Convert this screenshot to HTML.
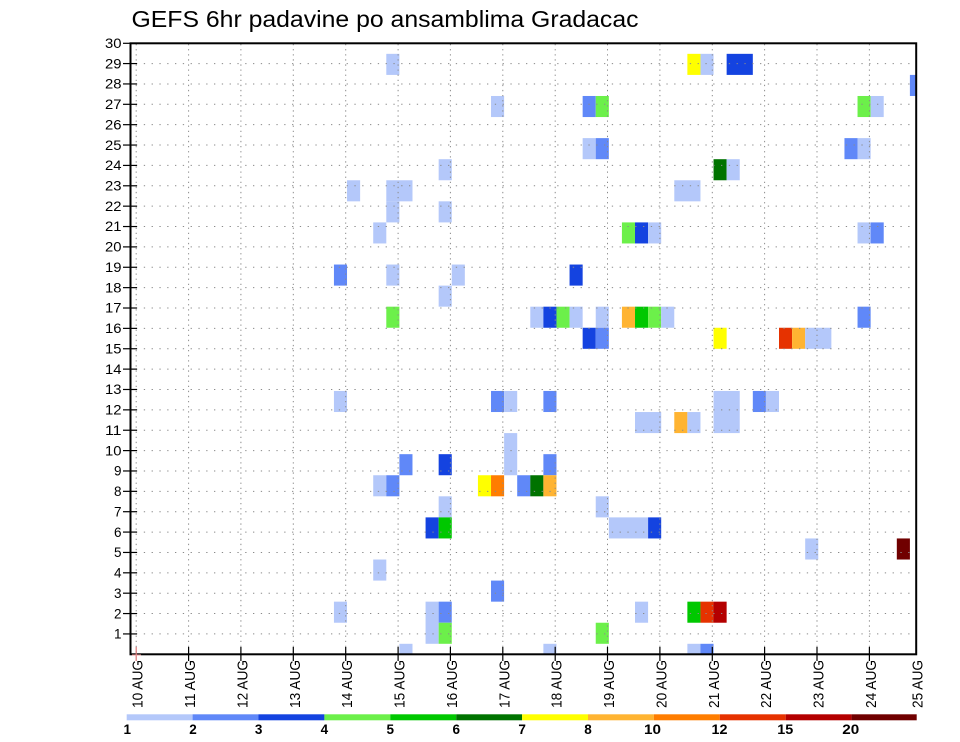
<!DOCTYPE html>
<html><head><meta charset="utf-8"><style>
html,body{margin:0;padding:0;background:#fff;}
svg{display:block;}
text{font-family:"Liberation Sans",sans-serif;fill:#000;}
.a{fill:#b4c8fa}.b{fill:#6088f8}.c{fill:#1443e0}.d{fill:#6cf04a}.e{fill:#00c800}.f{fill:#007300}
.g{fill:#ffff00}.h{fill:#ffb432}.i{fill:#ff7d00}.j{fill:#e63200}.l{fill:#b40000}.m{fill:#700000}
.hg line{stroke:#8a8a8a;stroke-width:1;stroke-dasharray:1.3 6.5;}
.vg line{stroke:#8a8a8a;stroke-width:1;stroke-dasharray:1.3 3.8;}
</style></head><body>
<svg width="960" height="742" viewBox="0 0 960 742" xmlns="http://www.w3.org/2000/svg">
<rect width="960" height="742" fill="#fff"/>
<text x="131.5" y="27" font-size="23" textLength="507" lengthAdjust="spacingAndGlyphs">GEFS 6hr padavine po ansamblima Gradacac</text>
<defs><clipPath id="pc"><rect x="131" y="43.3" width="785" height="611"/></clipPath></defs>
<g clip-path="url(#pc)">
<rect class="a" x="386.30" y="53.84" width="13.09" height="21.07"/>
<rect class="g" x="687.37" y="53.84" width="13.09" height="21.07"/>
<rect class="a" x="700.46" y="53.84" width="13.09" height="21.07"/>
<rect class="c" x="726.64" y="53.84" width="26.18" height="21.07"/>
<rect class="b" x="909.90" y="74.91" width="13.09" height="21.07"/>
<rect class="a" x="491.02" y="95.98" width="13.09" height="21.07"/>
<rect class="b" x="582.65" y="95.98" width="13.09" height="21.07"/>
<rect class="d" x="595.74" y="95.98" width="13.09" height="21.07"/>
<rect class="d" x="857.54" y="95.98" width="13.09" height="21.07"/>
<rect class="a" x="870.63" y="95.98" width="13.09" height="21.07"/>
<rect class="a" x="582.65" y="138.12" width="13.09" height="21.07"/>
<rect class="b" x="595.74" y="138.12" width="13.09" height="21.07"/>
<rect class="b" x="844.45" y="138.12" width="13.09" height="21.07"/>
<rect class="a" x="857.54" y="138.12" width="13.09" height="21.07"/>
<rect class="a" x="438.66" y="159.19" width="13.09" height="21.07"/>
<rect class="f" x="713.55" y="159.19" width="13.09" height="21.07"/>
<rect class="a" x="726.64" y="159.19" width="13.09" height="21.07"/>
<rect class="a" x="347.03" y="180.26" width="13.09" height="21.07"/>
<rect class="a" x="386.30" y="180.26" width="26.18" height="21.07"/>
<rect class="a" x="674.28" y="180.26" width="26.18" height="21.07"/>
<rect class="a" x="386.30" y="201.33" width="13.09" height="21.07"/>
<rect class="a" x="438.66" y="201.33" width="13.09" height="21.07"/>
<rect class="a" x="373.21" y="222.40" width="13.09" height="21.07"/>
<rect class="d" x="621.92" y="222.40" width="13.09" height="21.07"/>
<rect class="c" x="635.01" y="222.40" width="13.09" height="21.07"/>
<rect class="a" x="648.10" y="222.40" width="13.09" height="21.07"/>
<rect class="a" x="857.54" y="222.40" width="13.09" height="21.07"/>
<rect class="b" x="870.63" y="222.40" width="13.09" height="21.07"/>
<rect class="b" x="333.94" y="264.54" width="13.09" height="21.07"/>
<rect class="a" x="386.30" y="264.54" width="13.09" height="21.07"/>
<rect class="a" x="451.75" y="264.54" width="13.09" height="21.07"/>
<rect class="c" x="569.56" y="264.54" width="13.09" height="21.07"/>
<rect class="a" x="438.66" y="285.61" width="13.09" height="21.07"/>
<rect class="d" x="386.30" y="306.68" width="13.09" height="21.07"/>
<rect class="a" x="530.29" y="306.68" width="13.09" height="21.07"/>
<rect class="c" x="543.38" y="306.68" width="13.09" height="21.07"/>
<rect class="d" x="556.47" y="306.68" width="13.09" height="21.07"/>
<rect class="a" x="569.56" y="306.68" width="13.09" height="21.07"/>
<rect class="a" x="595.74" y="306.68" width="13.09" height="21.07"/>
<rect class="h" x="621.92" y="306.68" width="13.09" height="21.07"/>
<rect class="e" x="635.01" y="306.68" width="13.09" height="21.07"/>
<rect class="d" x="648.10" y="306.68" width="13.09" height="21.07"/>
<rect class="a" x="661.19" y="306.68" width="13.09" height="21.07"/>
<rect class="b" x="857.54" y="306.68" width="13.09" height="21.07"/>
<rect class="c" x="582.65" y="327.75" width="13.09" height="21.07"/>
<rect class="b" x="595.74" y="327.75" width="13.09" height="21.07"/>
<rect class="g" x="713.55" y="327.75" width="13.09" height="21.07"/>
<rect class="j" x="779.00" y="327.75" width="13.09" height="21.07"/>
<rect class="h" x="792.09" y="327.75" width="13.09" height="21.07"/>
<rect class="a" x="805.18" y="327.75" width="26.18" height="21.07"/>
<rect class="a" x="333.94" y="390.96" width="13.09" height="21.07"/>
<rect class="b" x="491.02" y="390.96" width="13.09" height="21.07"/>
<rect class="a" x="504.11" y="390.96" width="13.09" height="21.07"/>
<rect class="b" x="543.38" y="390.96" width="13.09" height="21.07"/>
<rect class="a" x="713.55" y="390.96" width="26.18" height="42.14"/>
<rect class="b" x="752.82" y="390.96" width="13.09" height="21.07"/>
<rect class="a" x="765.91" y="390.96" width="13.09" height="21.07"/>
<rect class="a" x="635.01" y="412.03" width="26.18" height="21.07"/>
<rect class="h" x="674.28" y="412.03" width="13.09" height="21.07"/>
<rect class="a" x="687.37" y="412.03" width="13.09" height="21.07"/>
<rect class="a" x="504.11" y="433.10" width="13.09" height="42.14"/>
<rect class="b" x="399.39" y="454.17" width="13.09" height="21.07"/>
<rect class="c" x="438.66" y="454.17" width="13.09" height="21.07"/>
<rect class="b" x="543.38" y="454.17" width="13.09" height="21.07"/>
<rect class="a" x="373.21" y="475.24" width="13.09" height="21.07"/>
<rect class="b" x="386.30" y="475.24" width="13.09" height="21.07"/>
<rect class="g" x="477.93" y="475.24" width="13.09" height="21.07"/>
<rect class="i" x="491.02" y="475.24" width="13.09" height="21.07"/>
<rect class="b" x="517.20" y="475.24" width="13.09" height="21.07"/>
<rect class="f" x="530.29" y="475.24" width="13.09" height="21.07"/>
<rect class="h" x="543.38" y="475.24" width="13.09" height="21.07"/>
<rect class="a" x="438.66" y="496.31" width="13.09" height="21.07"/>
<rect class="a" x="595.74" y="496.31" width="13.09" height="21.07"/>
<rect class="c" x="425.57" y="517.38" width="13.09" height="21.07"/>
<rect class="e" x="438.66" y="517.38" width="13.09" height="21.07"/>
<rect class="a" x="608.83" y="517.38" width="39.27" height="21.07"/>
<rect class="c" x="648.10" y="517.38" width="13.09" height="21.07"/>
<rect class="a" x="805.18" y="538.45" width="13.09" height="21.07"/>
<rect class="m" x="896.81" y="538.45" width="13.09" height="21.07"/>
<rect class="a" x="373.21" y="559.52" width="13.09" height="21.07"/>
<rect class="b" x="491.02" y="580.59" width="13.09" height="21.07"/>
<rect class="a" x="333.94" y="601.66" width="13.09" height="21.07"/>
<rect class="a" x="425.57" y="601.66" width="13.09" height="42.14"/>
<rect class="b" x="438.66" y="601.66" width="13.09" height="21.07"/>
<rect class="a" x="635.01" y="601.66" width="13.09" height="21.07"/>
<rect class="e" x="687.37" y="601.66" width="13.09" height="21.07"/>
<rect class="j" x="700.46" y="601.66" width="13.09" height="21.07"/>
<rect class="l" x="713.55" y="601.66" width="13.09" height="21.07"/>
<rect class="d" x="438.66" y="622.73" width="13.09" height="21.07"/>
<rect class="d" x="595.74" y="622.73" width="13.09" height="21.07"/>
<rect class="a" x="399.39" y="643.80" width="13.09" height="21.07"/>
<rect class="a" x="543.38" y="643.80" width="13.09" height="21.07"/>
<rect class="a" x="687.37" y="643.80" width="13.09" height="21.07"/>
<rect class="b" x="700.46" y="643.80" width="13.09" height="21.07"/>
</g>
<g class="hg">
<line x1="136" x2="916" y1="633.93" y2="633.93"/><line x1="136" x2="916" y1="613.56" y2="613.56"/>
<line x1="136" x2="916" y1="593.19" y2="593.19"/><line x1="136" x2="916" y1="572.82" y2="572.82"/>
<line x1="136" x2="916" y1="552.45" y2="552.45"/><line x1="136" x2="916" y1="532.08" y2="532.08"/>
<line x1="136" x2="916" y1="511.71" y2="511.71"/><line x1="136" x2="916" y1="491.34" y2="491.34"/>
<line x1="136" x2="916" y1="470.97" y2="470.97"/><line x1="136" x2="916" y1="450.60" y2="450.60"/>
<line x1="136" x2="916" y1="430.23" y2="430.23"/><line x1="136" x2="916" y1="409.86" y2="409.86"/>
<line x1="136" x2="916" y1="389.49" y2="389.49"/><line x1="136" x2="916" y1="369.12" y2="369.12"/>
<line x1="136" x2="916" y1="348.75" y2="348.75"/><line x1="136" x2="916" y1="328.38" y2="328.38"/>
<line x1="136" x2="916" y1="308.01" y2="308.01"/><line x1="136" x2="916" y1="287.64" y2="287.64"/>
<line x1="136" x2="916" y1="267.27" y2="267.27"/><line x1="136" x2="916" y1="246.90" y2="246.90"/>
<line x1="136" x2="916" y1="226.53" y2="226.53"/><line x1="136" x2="916" y1="206.16" y2="206.16"/>
<line x1="136" x2="916" y1="185.79" y2="185.79"/><line x1="136" x2="916" y1="165.42" y2="165.42"/>
<line x1="136" x2="916" y1="145.05" y2="145.05"/><line x1="136" x2="916" y1="124.68" y2="124.68"/>
<line x1="136" x2="916" y1="104.31" y2="104.31"/><line x1="136" x2="916" y1="83.94" y2="83.94"/>
<line x1="136" x2="916" y1="63.57" y2="63.57"/>
</g>
<g class="vg">
<line x1="136.2" x2="136.2" y1="44" y2="654"/><line x1="188.6" x2="188.6" y1="44" y2="654"/>
<line x1="240.9" x2="240.9" y1="44" y2="654"/><line x1="293.3" x2="293.3" y1="44" y2="654"/>
<line x1="345.7" x2="345.7" y1="44" y2="654"/><line x1="398.1" x2="398.1" y1="44" y2="654"/>
<line x1="450.4" x2="450.4" y1="44" y2="654"/><line x1="502.8" x2="502.8" y1="44" y2="654"/>
<line x1="555.2" x2="555.2" y1="44" y2="654"/><line x1="607.5" x2="607.5" y1="44" y2="654"/>
<line x1="659.9" x2="659.9" y1="44" y2="654"/><line x1="712.3" x2="712.3" y1="44" y2="654"/>
<line x1="764.6" x2="764.6" y1="44" y2="654"/><line x1="817.0" x2="817.0" y1="44" y2="654"/>
<line x1="869.4" x2="869.4" y1="44" y2="654"/>
</g>
<rect x="130.5" y="43.3" width="785.7" height="611" fill="none" stroke="#000" stroke-width="2"/>
<g stroke="#000" stroke-width="1.2">
<line x1="123" x2="137" y1="633.93" y2="633.93"/><line x1="123" x2="137" y1="613.56" y2="613.56"/>
<line x1="123" x2="137" y1="593.19" y2="593.19"/><line x1="123" x2="137" y1="572.82" y2="572.82"/>
<line x1="123" x2="137" y1="552.45" y2="552.45"/><line x1="123" x2="137" y1="532.08" y2="532.08"/>
<line x1="123" x2="137" y1="511.71" y2="511.71"/><line x1="123" x2="137" y1="491.34" y2="491.34"/>
<line x1="123" x2="137" y1="470.97" y2="470.97"/><line x1="123" x2="137" y1="450.60" y2="450.60"/>
<line x1="123" x2="137" y1="430.23" y2="430.23"/><line x1="123" x2="137" y1="409.86" y2="409.86"/>
<line x1="123" x2="137" y1="389.49" y2="389.49"/><line x1="123" x2="137" y1="369.12" y2="369.12"/>
<line x1="123" x2="137" y1="348.75" y2="348.75"/><line x1="123" x2="137" y1="328.38" y2="328.38"/>
<line x1="123" x2="137" y1="308.01" y2="308.01"/><line x1="123" x2="137" y1="287.64" y2="287.64"/>
<line x1="123" x2="137" y1="267.27" y2="267.27"/><line x1="123" x2="137" y1="246.90" y2="246.90"/>
<line x1="123" x2="137" y1="226.53" y2="226.53"/><line x1="123" x2="137" y1="206.16" y2="206.16"/>
<line x1="123" x2="137" y1="185.79" y2="185.79"/><line x1="123" x2="137" y1="165.42" y2="165.42"/>
<line x1="123" x2="137" y1="145.05" y2="145.05"/><line x1="123" x2="137" y1="124.68" y2="124.68"/>
<line x1="123" x2="137" y1="104.31" y2="104.31"/><line x1="123" x2="137" y1="83.94" y2="83.94"/>
<line x1="123" x2="137" y1="63.57" y2="63.57"/><line x1="123" x2="131" y1="43.3" y2="43.3"/>
</g>
<g stroke="#000" stroke-width="1.2">
<line x1="188.6" x2="188.6" y1="647" y2="661"/><line x1="240.9" x2="240.9" y1="647" y2="661"/>
<line x1="293.3" x2="293.3" y1="647" y2="661"/><line x1="345.7" x2="345.7" y1="647" y2="661"/>
<line x1="398.1" x2="398.1" y1="647" y2="661"/><line x1="450.4" x2="450.4" y1="647" y2="661"/>
<line x1="502.8" x2="502.8" y1="647" y2="661"/><line x1="555.2" x2="555.2" y1="647" y2="661"/>
<line x1="607.5" x2="607.5" y1="647" y2="661"/><line x1="659.9" x2="659.9" y1="647" y2="661"/>
<line x1="712.3" x2="712.3" y1="647" y2="661"/><line x1="764.6" x2="764.6" y1="647" y2="661"/>
<line x1="817.0" x2="817.0" y1="647" y2="661"/><line x1="869.4" x2="869.4" y1="647" y2="661"/>
</g>
<line x1="136.2" x2="136.2" y1="647" y2="661" stroke="#d77" stroke-width="1.2"/>
<line x1="132" x2="141" y1="655" y2="655" stroke="#e99" stroke-width="1"/>
<g font-size="13.5" text-anchor="end">
<text x="121.5" y="638.6">1</text><text x="121.5" y="618.3">2</text><text x="121.5" y="597.9">3</text>
<text x="121.5" y="577.5">4</text><text x="121.5" y="557.2">5</text><text x="121.5" y="536.8">6</text>
<text x="121.5" y="516.4">7</text><text x="121.5" y="496.0">8</text><text x="121.5" y="475.7">9</text>
<text x="121.5" y="455.3" textLength="16.5" lengthAdjust="spacingAndGlyphs">10</text>
<text x="121.5" y="434.9" textLength="16.5" lengthAdjust="spacingAndGlyphs">11</text>
<text x="121.5" y="414.6" textLength="16.5" lengthAdjust="spacingAndGlyphs">12</text>
<text x="121.5" y="394.2" textLength="16.5" lengthAdjust="spacingAndGlyphs">13</text>
<text x="121.5" y="373.8" textLength="16.5" lengthAdjust="spacingAndGlyphs">14</text>
<text x="121.5" y="353.5" textLength="16.5" lengthAdjust="spacingAndGlyphs">15</text>
<text x="121.5" y="333.1" textLength="16.5" lengthAdjust="spacingAndGlyphs">16</text>
<text x="121.5" y="312.7" textLength="16.5" lengthAdjust="spacingAndGlyphs">17</text>
<text x="121.5" y="292.3" textLength="16.5" lengthAdjust="spacingAndGlyphs">18</text>
<text x="121.5" y="272.0" textLength="16.5" lengthAdjust="spacingAndGlyphs">19</text>
<text x="121.5" y="251.6" textLength="16.5" lengthAdjust="spacingAndGlyphs">20</text>
<text x="121.5" y="231.2" textLength="16.5" lengthAdjust="spacingAndGlyphs">21</text>
<text x="121.5" y="210.9" textLength="16.5" lengthAdjust="spacingAndGlyphs">22</text>
<text x="121.5" y="190.5" textLength="16.5" lengthAdjust="spacingAndGlyphs">23</text>
<text x="121.5" y="170.1" textLength="16.5" lengthAdjust="spacingAndGlyphs">24</text>
<text x="121.5" y="149.8" textLength="16.5" lengthAdjust="spacingAndGlyphs">25</text>
<text x="121.5" y="129.4" textLength="16.5" lengthAdjust="spacingAndGlyphs">26</text>
<text x="121.5" y="109.0" textLength="16.5" lengthAdjust="spacingAndGlyphs">27</text>
<text x="121.5" y="88.6" textLength="16.5" lengthAdjust="spacingAndGlyphs">28</text>
<text x="121.5" y="68.3" textLength="16.5" lengthAdjust="spacingAndGlyphs">29</text>
<text x="121.5" y="47.9" textLength="16.5" lengthAdjust="spacingAndGlyphs">30</text>
</g>
<g font-size="15" text-anchor="end">
<text transform="translate(142.7,660) rotate(-90)" textLength="48" lengthAdjust="spacingAndGlyphs">10 AUG</text>
<text transform="translate(195.1,660) rotate(-90)" textLength="48" lengthAdjust="spacingAndGlyphs">11 AUG</text>
<text transform="translate(247.4,660) rotate(-90)" textLength="48" lengthAdjust="spacingAndGlyphs">12 AUG</text>
<text transform="translate(299.8,660) rotate(-90)" textLength="48" lengthAdjust="spacingAndGlyphs">13 AUG</text>
<text transform="translate(352.2,660) rotate(-90)" textLength="48" lengthAdjust="spacingAndGlyphs">14 AUG</text>
<text transform="translate(404.6,660) rotate(-90)" textLength="48" lengthAdjust="spacingAndGlyphs">15 AUG</text>
<text transform="translate(456.9,660) rotate(-90)" textLength="48" lengthAdjust="spacingAndGlyphs">16 AUG</text>
<text transform="translate(509.3,660) rotate(-90)" textLength="48" lengthAdjust="spacingAndGlyphs">17 AUG</text>
<text transform="translate(561.7,660) rotate(-90)" textLength="48" lengthAdjust="spacingAndGlyphs">18 AUG</text>
<text transform="translate(614.0,660) rotate(-90)" textLength="48" lengthAdjust="spacingAndGlyphs">19 AUG</text>
<text transform="translate(666.4,660) rotate(-90)" textLength="48" lengthAdjust="spacingAndGlyphs">20 AUG</text>
<text transform="translate(718.8,660) rotate(-90)" textLength="48" lengthAdjust="spacingAndGlyphs">21 AUG</text>
<text transform="translate(771.1,660) rotate(-90)" textLength="48" lengthAdjust="spacingAndGlyphs">22 AUG</text>
<text transform="translate(823.5,660) rotate(-90)" textLength="48" lengthAdjust="spacingAndGlyphs">23 AUG</text>
<text transform="translate(875.9,660) rotate(-90)" textLength="48" lengthAdjust="spacingAndGlyphs">24 AUG</text>
<text transform="translate(922.3,660) rotate(-90)" textLength="48" lengthAdjust="spacingAndGlyphs">25 AUG</text>
</g>
<g>
<rect class="a" x="126.7" y="714.3" width="65.9" height="6"/>
<rect class="b" x="192.6" y="714.3" width="65.9" height="6"/>
<rect class="c" x="258.5" y="714.3" width="65.9" height="6"/>
<rect class="d" x="324.4" y="714.3" width="65.9" height="6"/>
<rect class="e" x="390.3" y="714.3" width="65.9" height="6"/>
<rect class="f" x="456.2" y="714.3" width="65.9" height="6"/>
<rect class="g" x="522.1" y="714.3" width="65.9" height="6"/>
<rect class="h" x="588.0" y="714.3" width="65.9" height="6"/>
<rect class="i" x="653.9" y="714.3" width="65.9" height="6"/>
<rect class="j" x="719.8" y="714.3" width="65.9" height="6"/>
<rect class="l" x="785.7" y="714.3" width="65.9" height="6"/>
<rect class="m" x="851.6" y="714.3" width="65.1" height="6"/>
</g>
<g font-size="13.5" font-weight="bold" text-anchor="middle">
<text x="127.2" y="734">1</text>
<text x="193.0" y="734">2</text>
<text x="258.6" y="734">3</text>
<text x="324.4" y="734">4</text>
<text x="390.3" y="734">5</text>
<text x="456.2" y="734">6</text>
<text x="522.1" y="734">7</text>
<text x="588.0" y="734">8</text>
<text x="652.5" y="734" textLength="17" lengthAdjust="spacingAndGlyphs">10</text>
<text x="719.5" y="734" textLength="16" lengthAdjust="spacingAndGlyphs">12</text>
<text x="785.3" y="734" textLength="16" lengthAdjust="spacingAndGlyphs">15</text>
<text x="850.8" y="734" textLength="17" lengthAdjust="spacingAndGlyphs">20</text>
</g>
</svg>
</body></html>
